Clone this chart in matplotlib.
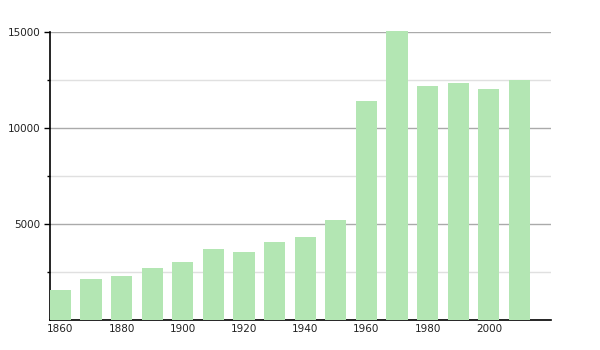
import matplotlib.pyplot as plt

# population per decade
years = [1860, 1870, 1880, 1890, 1900, 1910, 1920, 1930, 1940, 1950,
         1960, 1970, 1980, 1990, 2000, 2010]
population = [1560, 2130, 2290, 2710, 3020, 3700, 3540, 4060, 4320, 5210,
              11400, 15050, 12190, 12340, 12030, 12500]
xticks = [1860, 1880, 1900, 1920, 1940, 1960, 1980, 2000]
yticks = [5000, 10000, 15000]
yminor = [2500, 7500, 12500]

fig = plt.figure(figsize=(6, 3.5), dpi=100)
ax = fig.add_axes([50 / 600, 30 / 350, 501 / 600, 288 / 350])

ax.bar(years, population, width=6.9, color="#b3e6b3", zorder=3, clip_on=False)

ax.set_xlim(1856.6, 2020.3)
ax.set_ylim(0, 15000)
ax.set_xticks(xticks)
ax.set_yticks(yticks)
ax.set_yticks(yminor, minor=True)

ax.grid(axis="y", which="major", color="#aaaaaa", linewidth=1, zorder=0)
ax.grid(axis="y", which="minor", color="#e0e0e0", linewidth=1, zorder=0)

for s in ["top", "right"]:
    ax.spines[s].set_visible(False)
ax.spines["left"].set_linewidth(1.2)
ax.spines["bottom"].set_linewidth(1.2)

ax.tick_params(axis="x", length=0, pad=3, labelsize=7.5, colors="#222222")
ax.tick_params(axis="y", which="major", length=4, width=1, pad=3, labelsize=7.5, labelcolor="#222222")
ax.tick_params(axis="y", which="minor", length=2, width=1)

plt.savefig("out.png")
